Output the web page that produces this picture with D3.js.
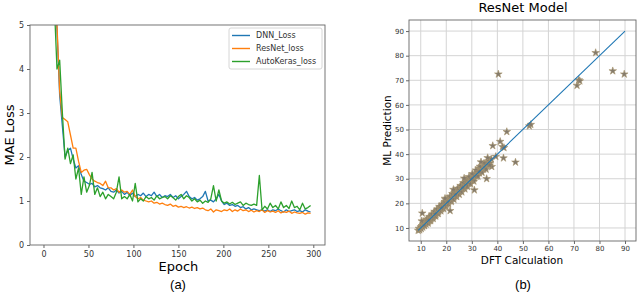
<!DOCTYPE html>
<html>
<head>
<meta charset="utf-8">
<script src="https://cdn.jsdelivr.net/npm/d3@7"></script>
<style>
  body { margin: 0; background: #fff; }
  svg { font-family: "DejaVu Sans", sans-serif; }
</style>
</head>
<body>
<svg id="chart" width="640" height="292"></svg>
<script>
// ---- panel (a): loss curves, one value every 3 epochs ----
var epochStep = 3;
var dnnLoss = [30, 20, 12, 8, 6, 4.9, 3.4, 2.7, 2.0, 2.15,
  2.2, 1.95, 1.75, 1.8, 1.6, 1.45, 1.42, 1.38, 1.4, 1.32,
  1.35, 1.3, 1.28, 1.25, 1.3, 1.22, 1.2, 1.25, 1.18, 1.22,
  1.15, 1.2, 1.12, 1.18, 1.1, 1.15, 1.12, 1.18, 1.1, 1.15,
  1.12, 1.2, 1.1, 1.15, 1.08, 1.12, 1.1, 1.15, 1.08, 1.12,
  1.05, 1.1, 1.15, 1.22, 1.1, 1.05, 1.08, 1.02, 1.05, 1.1,
  1.22, 1.0, 1.02, 0.98, 1.05, 1.15, 1.0, 0.92, 0.95, 0.9,
  0.92, 0.88, 0.9, 0.85, 0.87, 0.82, 0.85, 0.8, 0.82, 0.8,
  0.78, 0.8, 0.77, 0.8, 0.76, 0.8, 0.78, 0.82, 0.78, 0.75,
  0.8, 0.76, 0.78, 0.8, 0.76, 0.78, 0.75, 0.8, 0.77, 0.75];
var resnetLoss = [35, 22, 14, 9, 6.5, 5.0, 3.5, 2.9, 2.85, 2.8,
  2.5, 2.2, 2.2, 1.9, 1.65, 1.7, 1.72, 1.6, 1.5, 1.45,
  1.42, 1.4, 1.35, 1.45, 1.3, 1.3, 1.25, 1.28, 1.2, 1.25,
  1.2, 1.22, 1.15, 1.25, 1.1, 1.05, 1.08, 1.02, 1.0, 0.98,
  1.0, 0.95, 0.97, 0.93, 0.95, 0.92, 0.9, 0.93, 0.88, 0.9,
  0.86, 0.88, 0.85, 0.87, 0.84, 0.86, 0.83, 0.85, 0.82, 0.84,
  0.8, 0.78, 0.82, 0.75, 0.8, 0.78, 0.76, 0.8, 0.78, 0.82,
  0.76, 0.8, 0.77, 0.82, 0.78, 0.8, 0.76, 0.79, 0.75, 0.78,
  0.76, 0.8, 0.74, 0.78, 0.75, 0.77, 0.74, 0.78, 0.73, 0.76,
  0.74, 0.77, 0.72, 0.75, 0.73, 0.72, 0.74, 0.7, 0.73, 0.72];
var autokerasLoss = [28, 18, 11, 7.5, 5.5, 4.0, 4.2, 3.0, 1.95, 2.2,
  1.85, 2.05, 1.5, 1.75, 1.15, 1.55, 1.2, 1.35, 1.65, 1.15,
  1.3, 1.1, 1.2, 1.05, 1.15, 1.1, 1.05, 1.2, 1.55, 1.05,
  1.1, 1.05, 1.15, 1.0, 1.4, 0.98, 1.05, 1.0, 1.1, 1.05,
  1.08, 1.02, 1.12, 1.05, 1.08, 1.1, 1.05, 1.12, 1.08, 1.02,
  1.1, 1.15, 1.05, 1.12, 1.08, 1.0, 1.05, 0.98, 1.02, 0.95,
  1.0, 0.97, 1.05, 1.35, 1.0, 1.25, 1.0, 0.95, 0.98, 0.93,
  0.97, 0.92, 0.95, 0.98, 0.9, 0.95, 0.92, 0.9, 0.93, 0.9,
  1.58, 0.8, 0.88, 0.82, 0.95, 0.85, 0.9, 0.82, 0.98, 0.85,
  0.9, 0.83, 1.0, 0.85, 0.88, 0.8, 0.95, 0.82, 0.85, 0.9];
var lossNames = ['DNN_Loss', 'ResNet_loss', 'AutoKeras_loss'];
var lossColors = ['#1f77b4', '#ff7f0e', '#2ca02c'];
var epochTicks = [0, 50, 100, 150, 200, 250, 300];
var lossTicks = [0, 1, 2, 3, 4, 5];

// ---- panel (b): DFT vs predicted ----
var dftCalc = [9.0, 9.3, 9.6, 10.0, 10.2, 10.5, 10.8, 11.0, 11.2, 11.4,
  11.7, 12.0, 12.1, 12.4, 12.6, 12.8, 13.0, 13.1, 13.3, 13.5,
  13.6, 13.8, 14.0, 14.1, 14.3, 14.5, 14.6, 14.8, 15.0, 15.1,
  15.3, 15.5, 15.6, 15.8, 16.0, 16.1, 16.3, 16.5, 16.6, 16.8,
  17.0, 17.2, 17.4, 17.6, 17.8, 18.0, 18.2, 18.4, 18.6, 18.8,
  19.0, 19.3, 19.5, 19.7, 20.0, 20.2, 20.5, 20.8, 21.0, 21.3,
  21.5, 21.6, 21.9, 22.2, 22.5, 22.7, 23.0, 23.2, 23.5, 23.8,
  24.0, 24.3, 24.6, 24.9, 25.2, 25.5, 25.8, 26.0, 26.3, 26.6,
  26.9, 27.2, 27.5, 27.8, 28.1, 28.4, 28.7, 29.0, 29.3, 29.6,
  30.0, 31.0, 30.6, 31.0, 31.4, 31.8, 32.2, 32.6, 33.0, 33.4,
  33.8, 34.2, 34.6, 35.0, 35.4, 35.8, 36.0, 36.4, 36.8, 37.2,
  37.6, 37.8, 38.2, 39.4, 40.4, 41.1, 42.0, 42.4, 42.6, 43.7,
  47.1, 52.5, 53.1, 71.2, 71.9, 72.3, 78.5, 85.2, 89.7, 10.6,
  11.5, 11.8, 12.3, 12.9, 13.4, 13.9, 14.4, 14.9, 15.4, 15.9,
  16.4, 16.9, 17.3, 17.9, 18.3, 18.9, 19.4, 19.9, 20.4, 20.9,
  21.4, 22.0, 22.4, 23.0, 23.4, 24.1, 24.5, 25.1, 25.6, 26.1,
  26.7, 27.3, 27.7, 28.3, 28.9, 29.5, 30.2, 30.8, 31.6, 32.4,
  33.2, 34.0, 34.8, 35.6, 36.2, 37.0, 13.2, 15.7, 18.1, 20.6,
  23.6, 26.4, 29.8, 32.9, 10.4, 19.5, 22.8, 27.0, 33.6];
var mlPred = [9.0, 9.8, 9.2, 10.4, 9.7, 10.9, 10.3, 11.5, 12.6, 10.9,
  11.9, 12.6, 11.5, 12.2, 13.1, 12.4, 13.5, 12.7, 13.9, 13.0,
  14.2, 13.4, 14.6, 13.7, 15.0, 14.1, 14.9, 15.5, 14.6, 15.3,
  16.0, 15.0, 15.8, 16.4, 15.6, 16.6, 17.0, 16.0, 16.9, 17.5,
  16.7, 17.6, 18.2, 17.2, 18.0, 18.6, 17.7, 18.9, 19.5, 18.3,
  19.2, 20.1, 19.0, 21.5, 20.3, 19.6, 21.2, 20.4, 21.8, 20.9,
  17.0, 22.2, 21.3, 22.8, 22.0, 23.5, 22.6, 24.3, 23.1, 24.5,
  23.5, 25.2, 24.1, 25.7, 24.8, 26.4, 25.3, 27.0, 25.9, 27.4,
  26.4, 28.3, 27.0, 28.8, 27.5, 29.3, 28.1, 29.9, 28.6, 30.5,
  29.4, 25.4, 31.3, 30.2, 32.0, 31.0, 33.0, 34.2, 32.3, 33.9,
  33.0, 34.5, 33.8, 35.5, 34.7, 30.0, 36.7, 35.6, 37.2, 36.4,
  38.0, 34.9, 43.4, 39.0, 72.5, 45.1, 43.0, 38.4, 42.6, 49.1,
  36.7, 51.4, 52.0, 67.9, 70.1, 69.7, 81.2, 73.8, 72.5, 16.0,
  11.0, 12.8, 13.4, 11.9, 14.6, 12.9, 15.6, 13.8, 16.7, 14.8,
  17.6, 15.8, 18.7, 16.9, 19.6, 17.8, 20.7, 18.8, 21.9, 19.7,
  22.8, 20.7, 23.9, 21.6, 24.9, 22.7, 26.1, 23.6, 27.2, 24.6,
  28.3, 25.8, 29.5, 26.8, 30.8, 27.9, 32.0, 29.0, 33.5, 31.0,
  35.0, 32.5, 36.3, 33.8, 38.5, 35.5, 13.2, 15.7, 18.1, 20.6,
  23.6, 26.4, 29.8, 32.9, 12.8, 22.0, 25.6, 30.2, 36.8];
var parityTicks = [10, 20, 30, 40, 50, 60, 70, 80, 90];

var svg = d3.select('#chart');
var frameColor = '#666';
var tickText = '#333';

// ================= panel (a) =================
var a = {left: 30, right: 325, top: 25, bottom: 245};

var xA = d3.scaleLinear().domain([-15, 313]).range([a.left, a.right]);
var yA = d3.scaleLinear().domain([0, 5]).range([a.bottom, a.top]);

svg.append('clipPath').attr('id', 'clipA')
  .append('rect')
  .attr('x', a.left).attr('y', a.top)
  .attr('width', a.right - a.left).attr('height', a.bottom - a.top);

var lossLine = d3.line()
  .x(function (d, i) { return xA(i * epochStep); })
  .y(function (d) { return yA(d); });

var series = [dnnLoss, resnetLoss, autokerasLoss];
var gLines = svg.append('g').attr('clip-path', 'url(#clipA)');
for (var i = 0; i < series.length; i++) {
  gLines.append('path')
    .datum(series[i])
    .attr('fill', 'none')
    .attr('stroke', lossColors[i])
    .attr('stroke-width', 1.3)
    .attr('stroke-linejoin', 'round')
    .attr('d', lossLine);
}

var axA_x = svg.append('g')
  .attr('transform', `translate(0, ${a.bottom})`)
  .call(d3.axisBottom(xA).tickValues(epochTicks).tickSize(3).tickPadding(3));
var axA_y = svg.append('g')
  .attr('transform', `translate(${a.left}, 0)`)
  .call(d3.axisLeft(yA).tickValues(lossTicks).tickFormat(d3.format('d')).tickSize(3).tickPadding(3));

[axA_x, axA_y].forEach(function (ax) {
  ax.select('.domain').remove();
  ax.selectAll('line').attr('stroke', frameColor);
  ax.selectAll('text').attr('fill', tickText)
    .style('font-size', '8px').style('font-family', '"DejaVu Sans", sans-serif');
});

svg.append('rect')
  .attr('x', a.left).attr('y', a.top)
  .attr('width', a.right - a.left).attr('height', a.bottom - a.top)
  .attr('fill', 'none').attr('stroke', frameColor).attr('stroke-width', 0.9);

// legend
var leg = svg.append('g').attr('transform', 'translate(229, 28)');
leg.append('rect')
  .attr('width', 93).attr('height', 41).attr('rx', 2)
  .attr('fill', '#fff').attr('stroke', '#ccc').attr('stroke-width', 0.8);
lossNames.forEach(function (name, i) {
  var yy = 7.5 + i * 13;
  leg.append('line')
    .attr('x1', 3).attr('x2', 21).attr('y1', yy).attr('y2', yy)
    .attr('stroke', lossColors[i]).attr('stroke-width', 1.4);
  leg.append('text')
    .attr('x', 27).attr('y', yy).attr('dy', '0.35em')
    .attr('fill', tickText)
    .style('font-size', '8px')
    .text(name);
});

svg.append('text')
  .attr('x', (xA(0) + xA(300)) / 2).attr('y', 271)
  .attr('text-anchor', 'middle')
  .style('font-size', '13px')
  .text('Epoch');

svg.append('text')
  .attr('transform', `translate(14, ${(a.top + a.bottom) / 2}) rotate(-90)`)
  .attr('text-anchor', 'middle')
  .style('font-size', '13px')
  .text('MAE Loss');

svg.append('text')
  .attr('x', 178).attr('y', 289)
  .attr('text-anchor', 'middle')
  .style('font-size', '13px')
  .style('font-family', '"Liberation Sans", sans-serif')
  .text('(a)');

// ================= panel (b) =================
var b = {left: 409, right: 636, top: 20, bottom: 241};

var xB = d3.scaleLinear().domain([5.4, 94.3]).range([b.left, b.right]);
var yB = d3.scaleLinear().domain([4.7, 94.5]).range([b.bottom, b.top]);

// grid
var grid = svg.append('g');
grid.selectAll('.gx').data(parityTicks).enter().append('line')
  .attr('x1', function (d) { return xB(d); })
  .attr('x2', function (d) { return xB(d); })
  .attr('y1', b.top).attr('y2', b.bottom)
  .attr('stroke', '#d4d4d4').attr('stroke-width', 1);
grid.selectAll('.gy').data(parityTicks).enter().append('line')
  .attr('y1', function (d) { return yB(d); })
  .attr('y2', function (d) { return yB(d); })
  .attr('x1', b.left).attr('x2', b.right)
  .attr('stroke', '#d4d4d4').attr('stroke-width', 1);

var points = dftCalc.map(function (d, i) { return {x: d, y: mlPred[i]}; });
var star = d3.symbol().type(d3.symbolStar).size(18);
svg.append('g').selectAll('path')
  .data(points)
  .enter()
  .append('path')
  .attr('transform', function (d) { return `translate(${xB(d.x)}, ${yB(d.y)})`; })
  .attr('d', star)
  .attr('fill', '#837a6c')
  .attr('stroke', '#a8966e')
  .attr('stroke-width', 0.6);

// y = x reference line
svg.append('path')
  .datum([9, 90])
  .attr('fill', 'none')
  .attr('stroke', '#1f77b4')
  .attr('stroke-width', 1.1)
  .attr('d', d3.line()
    .x(function (d) { return xB(d); })
    .y(function (d) { return yB(d); }));

var axB_x = svg.append('g')
  .attr('transform', `translate(0, ${b.bottom})`)
  .call(d3.axisBottom(xB).tickValues(parityTicks).tickSize(3).tickPadding(2));
var axB_y = svg.append('g')
  .attr('transform', `translate(${b.left}, 0)`)
  .call(d3.axisLeft(yB).tickValues(parityTicks).tickSize(3).tickPadding(2));

[axB_x, axB_y].forEach(function (ax) {
  ax.select('.domain').remove();
  ax.selectAll('line').attr('stroke', frameColor);
  ax.selectAll('text').attr('fill', tickText)
    .style('font-size', '7px').style('font-family', '"DejaVu Sans", sans-serif');
});

svg.append('rect')
  .attr('x', b.left).attr('y', b.top)
  .attr('width', b.right - b.left).attr('height', b.bottom - b.top)
  .attr('fill', 'none').attr('stroke', frameColor).attr('stroke-width', 0.9);

svg.append('text')
  .attr('x', 523).attr('y', 12)
  .attr('text-anchor', 'middle')
  .style('font-size', '13px')
  .text('ResNet Model');

svg.append('text')
  .attr('x', 522).attr('y', 264)
  .attr('text-anchor', 'middle')
  .style('font-size', '10.5px')
  .text('DFT Calculation');

svg.append('text')
  .attr('transform', `translate(391, ${(b.top + b.bottom) / 2}) rotate(-90)`)
  .attr('text-anchor', 'middle')
  .style('font-size', '10.5px')
  .text('ML Prediction');

svg.append('text')
  .attr('x', 523).attr('y', 289)
  .attr('text-anchor', 'middle')
  .style('font-size', '13px')
  .style('font-family', '"Liberation Sans", sans-serif')
  .text('(b)');
</script>
</body>
</html>
